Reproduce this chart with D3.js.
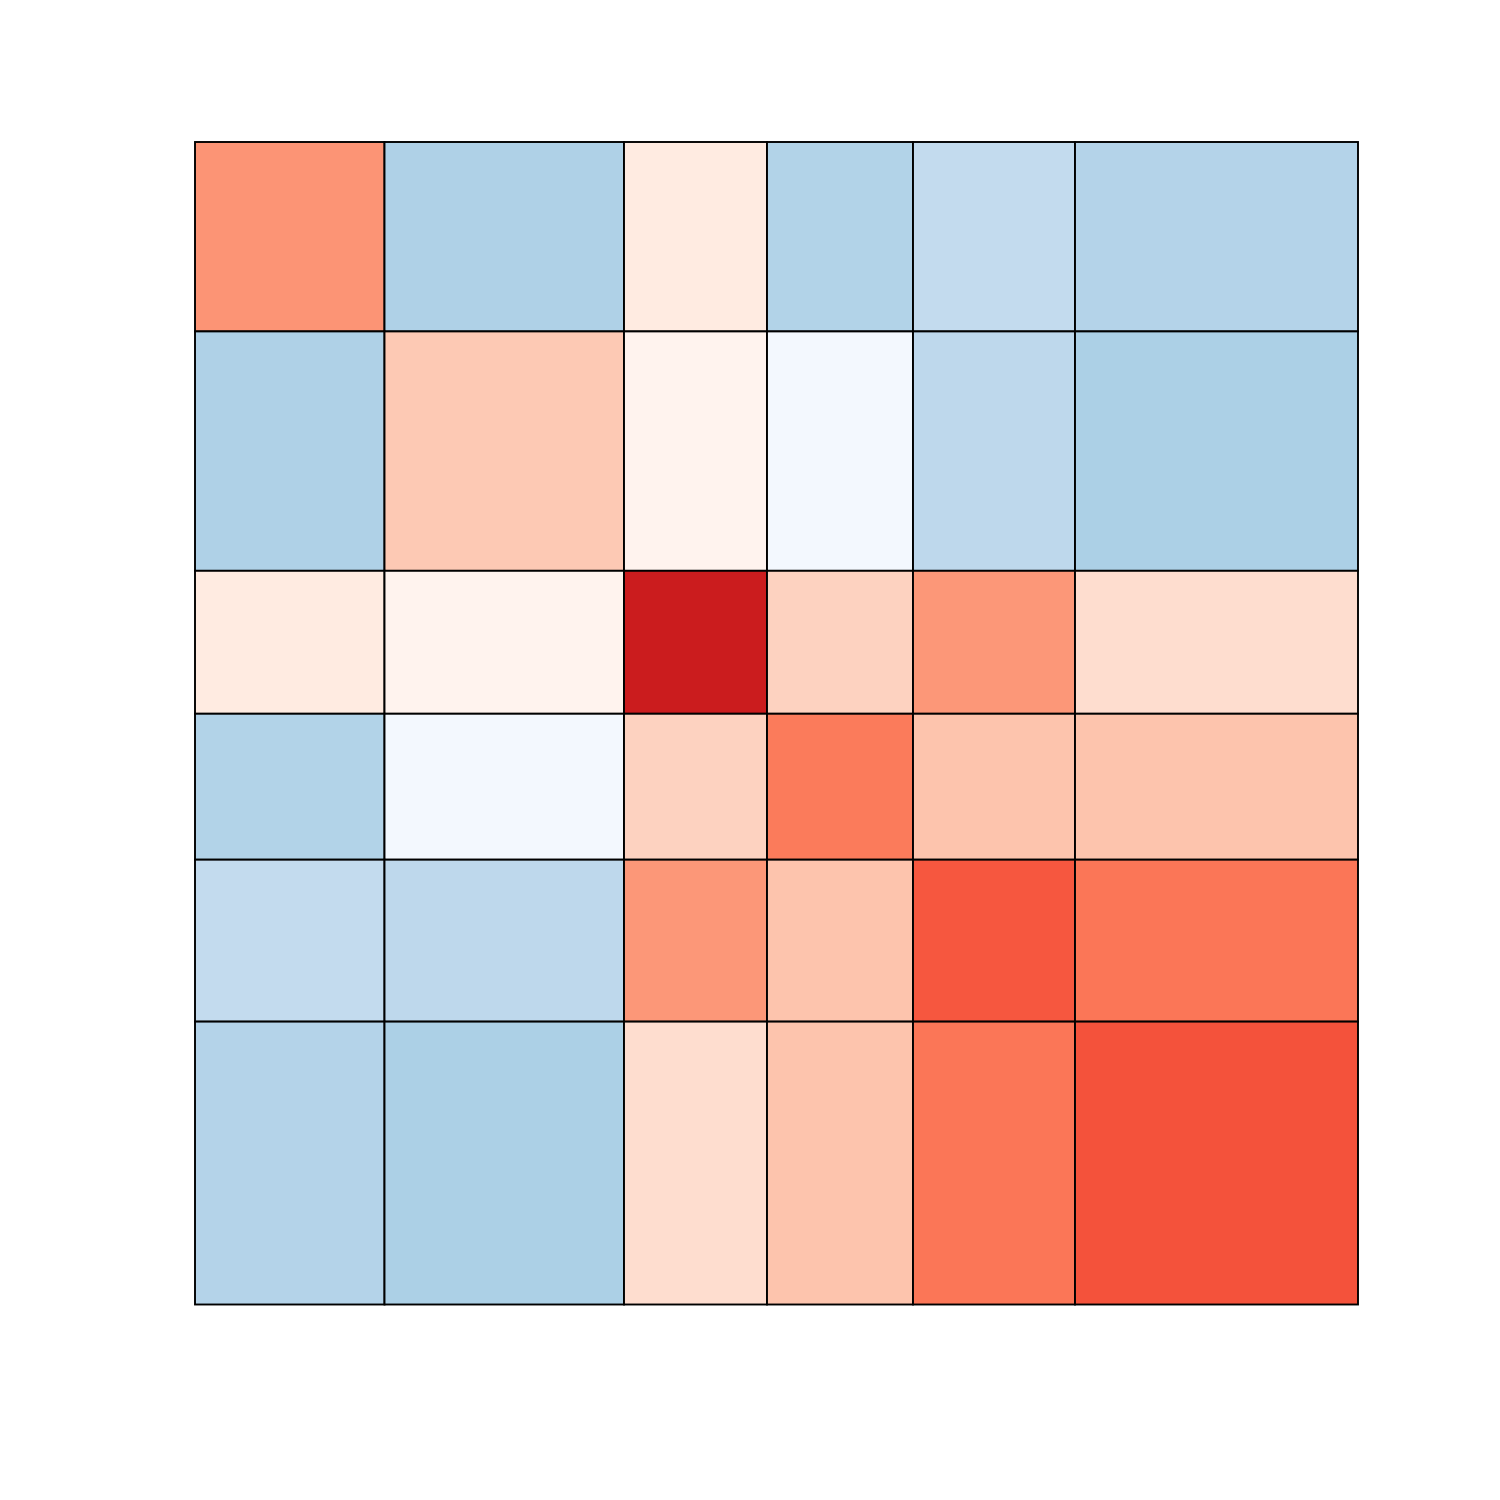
<!DOCTYPE html>
<html>
<head>
<meta charset="utf-8">
<script src="https://cdn.jsdelivr.net/npm/d3@7"></script>
<style>
  body { margin: 0; background: #fff; }
</style>
</head>
<body>
<svg id="chart"></svg>
<script>
// variables (no labels are drawn in the chart)
var vars = ['V1', 'V2', 'V3', 'V4', 'V5', 'V6'];
// relative size of each variable -> column width and row height
var sizes = [189.5, 239.5, 143, 146, 162, 283];
// cell values, one array per row
var row1 = [0.37, -0.32, 0.06, -0.31, -0.25, -0.305];
var row2 = [-0.32, 0.20, 0.01, -0.02, -0.27, -0.33];
var row3 = [0.06, 0.01, 0.75, 0.17, 0.36, 0.125];
var row4 = [-0.31, -0.02, 0.17, 0.447, 0.22, 0.22];
var row5 = [-0.25, -0.27, 0.36, 0.22, 0.55, 0.46];
var row6 = [-0.305, -0.33, 0.125, 0.22, 0.46, 0.565];
var rows = [row1, row2, row3, row4, row5, row6];

var W = 1500, H = 1500;
var margin = { top: 142, right: 142, bottom: 195.5, left: 195 };

var svg = d3.select('#chart')
    .attr('width', W)
    .attr('height', H);

var ends = Array.from(d3.cumsum(sizes));
var starts = [0].concat(ends.slice(0, -1));
var total = d3.sum(sizes);

var xScale = d3.scaleLinear()
    .domain([0, total])
    .range([margin.left, W - margin.right]);
var yScale = d3.scaleLinear()
    .domain([0, total])
    .range([margin.top, H - margin.bottom]);

function color(v) {
    return v >= 0 ? d3.interpolateReds(v) : d3.interpolateBlues(-v);
}

var cells = [];
rows.forEach(function (r, i) {
    r.forEach(function (v, j) {
        cells.push({ row: i, col: j, value: v });
    });
});

svg.append('g')
    .selectAll('rect')
    .data(cells)
    .enter().append('rect')
    .attr('x', function (d) { return xScale(starts[d.col]); })
    .attr('y', function (d) { return yScale(starts[d.row]); })
    .attr('width', function (d) { return xScale(ends[d.col]) - xScale(starts[d.col]); })
    .attr('height', function (d) { return yScale(ends[d.row]) - yScale(starts[d.row]); })
    .attr('fill', function (d) { return color(d.value); })
    .attr('stroke', '#000')
    .attr('stroke-width', 1.9);
</script>
</body>
</html>
